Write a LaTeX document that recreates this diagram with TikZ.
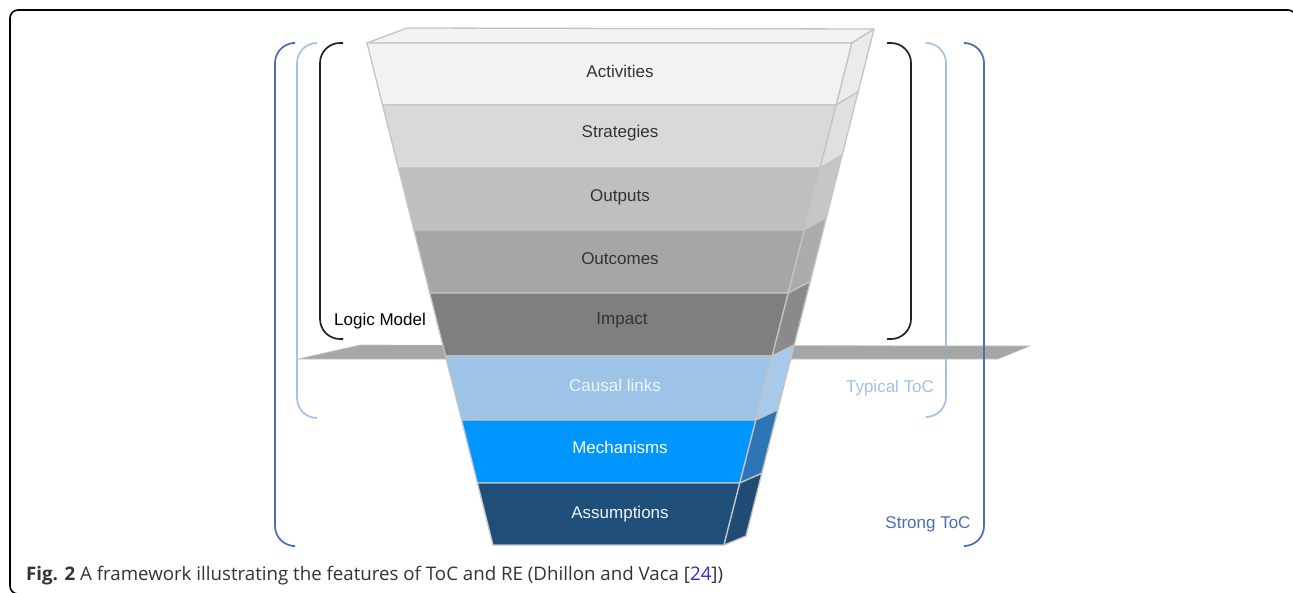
\documentclass[tikz,border=0pt]{standalone}
\usepackage{fontspec}
\setmainfont{Liberation Sans}
\newfontfamily\capfont{Open Sans}
\usepackage{tikz}
\usetikzlibrary{positioning}

\definecolor{edgegray}{HTML}{C4C4C4}
\definecolor{topfill}{HTML}{F3F3F3}
\definecolor{actfill}{HTML}{F2F2F2}
\definecolor{actside}{HTML}{EBEBEB}
\definecolor{strfill}{HTML}{D9D9D9}
\definecolor{strside}{HTML}{E0E0E0}
\definecolor{outfill}{HTML}{BFBFBF}
\definecolor{outside}{HTML}{C6C6C6}
\definecolor{oucfill}{HTML}{A6A6A6}
\definecolor{oucside}{HTML}{ABABAB}
\definecolor{impfill}{HTML}{7F7F7F}
\definecolor{impside}{HTML}{8A8A8A}
\definecolor{caufill}{HTML}{9DC3E6}
\definecolor{causide}{HTML}{A7C9EA}
\definecolor{mecfill}{HTML}{0096FF}
\definecolor{mecside}{HTML}{2E75B6}
\definecolor{assfill}{HTML}{1F4E79}
\definecolor{assside}{HTML}{1F4B74}
\definecolor{planefill}{HTML}{A6A6A6}
\definecolor{logicline}{HTML}{222222}
\definecolor{typline}{HTML}{A3BFEA}
\definecolor{strongline}{HTML}{4A6DB5}
\definecolor{darktext}{HTML}{333333}
\definecolor{lighttext}{HTML}{EEF4FB}
\definecolor{reflink}{HTML}{2A2AE0}

\begin{document}
\begin{tikzpicture}
		[
			x=1pt, y=-1pt,
			font=\fontsize{17}{20}\selectfont,
			layertext/.style={draw=none,fill=none,inner sep=0pt,anchor=base,text=darktext},
			layer/.style={draw=edgegray, line width=1.3pt, line join=round},
			bracket/.style={line width=1.7pt, rounded corners=20pt}
		]

		\useasboundingbox (0,0) rectangle (1293,592);

		% frame
		\draw[line width=1.6pt, rounded corners=8pt] (1296,600) -- (1296,10) -- (10,10) -- (10,594) -- (1296,594);

		% funnel corners
		\foreach \yy [count=\i] in {43,105,168,230,293,356,420,483,545}
		{
			\pgfmathsetmacro\lx{367+0.251*(\yy-43)}
			\pgfmathsetmacro\rx{852-0.255*(\yy-43)}
			\pgfmathsetmacro\dback{-14+5*(\yy-43)/502}
			\coordinate (fl\i) at (\lx,\yy);
			\coordinate (fr\i) at (\rx,\yy);
			\coordinate (br\i) at (\rx+22,\yy+\dback);
		}
		\coordinate (bl1) at (407,28);

		% brackets for typical ToC
		\draw[bracket,typline] (317,43) -- (297,43) -- (297,418) -- (317,418);
		\draw[bracket,typline] (927,43) -- (946,43) -- (946,417) -- (927,417);

		% plane
		\filldraw[planefill, draw=edgegray, line width=0.6pt] (298,359) -- (360,345) -- (1030,346) -- (998,359) -- cycle;

		% brackets for strong ToC
		\draw[bracket,strongline] (292,43) -- (275,43) -- (275,546) -- (292,546);
		\draw[bracket,strongline] (966,43) -- (984,43) -- (984,546) -- (966,546);

		% brackets for logic model
		\draw[bracket,logicline] (343,43) -- (320,43) -- (320,339) -- (343,339);
		\draw[bracket,logicline] (887,43) -- (911,43) -- (911,339) -- (887,339);

		% top face
		\filldraw[layer,fill=topfill] (fl1) -- (bl1) -- (br1) -- (fr1) -- cycle;

		% layers
		\foreach \i/\front/\side in {1/actfill/actside,2/strfill/strside,3/outfill/outside,4/oucfill/oucside,5/impfill/impside,6/caufill/causide,7/mecfill/mecside,8/assfill/assside}
		{
			\pgfmathtruncatemacro\j{\i+1}
			\filldraw[layer,fill=\front] (fl\i) -- (fr\i) -- (fr\j) -- (fl\j) -- cycle;
			\filldraw[layer,fill=\side] (fr\i) -- (br\i) -- (br\j) -- (fr\j) -- cycle;
		}

		% layer labels
		\node[layertext] (act) at ( 620,  77 ) {Activities};
		\node[layertext] (str) at ( 620, 137 ) {Strategies};
		\node[layertext] (out) at ( 620, 201 ) {Outputs};
		\node[layertext] (ouc) at ( 620, 264 ) {Outcomes};
		\node[layertext] (imp) at ( 622, 324 ) {Impact};
		\node[layertext,text=lighttext] (cau) at ( 615, 391 ) {Causal links};
		\node[layertext,text=white] (mec) at ( 620, 453 ) {Mechanisms};
		\node[layertext,text=lighttext] (ass) at ( 620, 518 ) {Assumptions};

		% bracket labels
		\node[layertext,text=black] (logic) at ( 380, 325 ) {Logic Model};
		\node[layertext,text=typline] (typical) at ( 890, 392 ) {Typical ToC};
		\node[layertext,text=strongline] (strong) at ( 928, 528 ) {Strong ToC};

		% caption
		\node[layertext,anchor=base west,text=darktext,font=\capfont\fontsize{18.7}{21}\selectfont] (caption) at ( 26, 580 )
			{\textbf{Fig. 2} A framework illustrating the features of ToC and RE (Dhillon and Vaca [\textcolor{reflink}{24}])};

	\end{tikzpicture}
\end{document}
